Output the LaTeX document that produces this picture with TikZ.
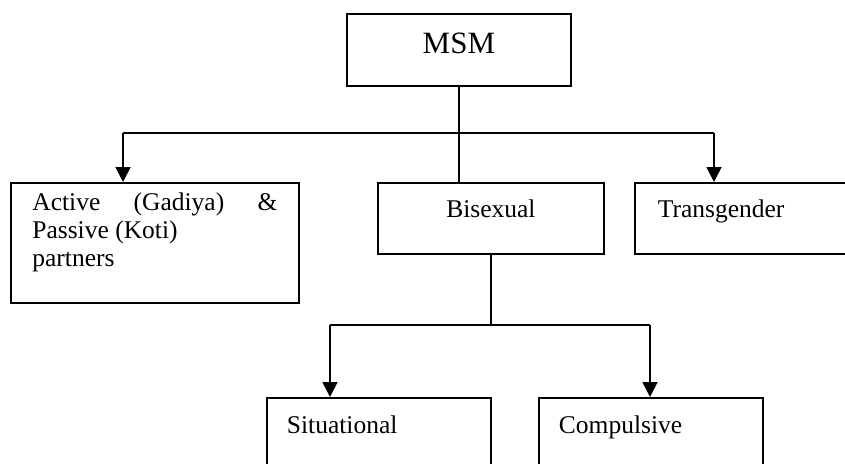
\documentclass[tikz,border=0pt]{standalone}
\usepackage{fontspec}
\setmainfont{Liberation Serif}
\usetikzlibrary{arrows.meta}
% no word breaks inside the boxes
\hyphenpenalty=10000
\exhyphenpenalty=10000

\begin{document}
\begin{tikzpicture}[x=1pt,y=-1pt,
  box/.style={draw, line width=1.8pt, inner ysep=0pt, anchor=north west,
              font=\fontsize{25.5}{28}\selectfont},
  link/.style={line width=1.8pt},
  arr/.style={line width=1.8pt, -{Triangle[width=15pt,length=15pt]}}]
\useasboundingbox (0,0) rectangle (845,463);
\clip (0,0) rectangle (845,463);

% top level
\node[box, inner xsep=0pt, text width=224pt, align=center,
      text height=40pt, text depth=32pt, font=\fontsize{31}{34}\selectfont]
      (msm) at (346,13) {MSM};

% second level
\node[box, inner xsep=21.5pt, text width=245pt, align=justify,
      text height=28pt, text depth=92pt]
      (act) at (10,182) {Active (Gadiya) \& Passive (Koti)\hfil\break partners};
\node[box, inner xsep=0pt, text width=226pt, align=center,
      text height=35pt, text depth=36pt]
      (bis) at (377,182) {Bisexual};
\node[box, inner xsep=23pt, text width=190pt, align=left,
      text height=35pt, text depth=36pt]
      (tra) at (634,182) {Transgender};

% third level
\node[box, inner xsep=20pt, text width=184pt, align=left,
      text height=36pt, text depth=60pt]
      (sit) at (266,397) {Situational};
\node[box, inner xsep=20pt, text width=184pt, align=left,
      text height=36pt, text depth=60pt]
      (com) at (538,397) {Compulsive};

% branch points
\coordinate (la) at (123,133);
\coordinate (ra) at (714,133);
\coordinate (lb) at (330,325);
\coordinate (rb) at (650,325);

% connectors from MSM
\draw[link] (msm.south) -- (msm.south |- bis.north);
\draw[link] (la) -- (ra);
\draw[arr] (la) -- (la |- act.north);
\draw[arr] (ra) -- (ra |- tra.north);

% connectors from Bisexual
\draw[link] (bis.south) -- (bis.south |- lb);
\draw[link] (lb) -- (rb);
\draw[arr] (lb) -- (lb |- sit.north);
\draw[arr] (rb) -- (rb |- com.north);
\end{tikzpicture}
\end{document}
